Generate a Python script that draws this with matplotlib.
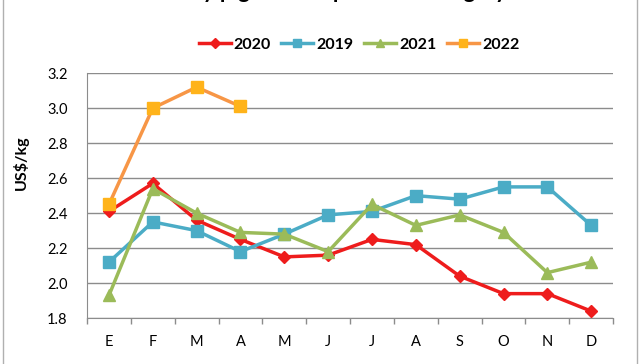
import matplotlib.pyplot as plt
from matplotlib.lines import Line2D
import numpy as np

plt.rcParams['font.family'] = ['Lato', 'DejaVu Sans']

months = ["E", "F", "M", "A", "M", "J", "J", "A", "S", "O", "N", "D"]

price_2020 = [2.41, 2.57, 2.36, 2.25, 2.15, 2.16, 2.25, 2.22, 2.04, 1.94, 1.94, 1.84]
price_2019 = [2.12, 2.35, 2.30, 2.18, 2.28, 2.39, 2.41, 2.50, 2.48, 2.55, 2.55, 2.33]
price_2021 = [1.93, 2.54, 2.40, 2.29, 2.28, 2.18, 2.45, 2.33, 2.39, 2.29, 2.06, 2.12]
price_2022 = [2.45, 3.00, 3.12, 3.01]

yticks = [1.8, 2.0, 2.2, 2.4, 2.6, 2.8, 3.0, 3.2]

series = [
    ("2020", price_2020, "#ee1c1c", "#ee1c1c", "D", 6.5),
    ("2019", price_2019, "#4bacc6", "#4bacc6", "s", 8),
    ("2021", price_2021, "#9bbb59", "#9bbb59", "^", 8),
    ("2022", price_2022, "#f79646", "#ffb31a", "s", 8),
]

fig = plt.figure(figsize=(6.4, 3.64), dpi=100)
ax = fig.add_axes([0.136, 0.126, 0.822, 0.673])

x = np.arange(len(months))
for name, vals, lc, mc, mk, ms in series:
    ax.plot(x[:len(vals)], vals, color=lc, lw=2.5, marker=mk, ms=ms,
            mfc=mc, mec=mc, label=name, zorder=3)

ax.set_xlim(-0.5, 11.5)
ax.set_ylim(1.8, 3.2)
ax.set_yticks(yticks)
ax.set_yticklabels([f"{v:.1f}" for v in yticks], fontsize=10.5)
ax.grid(axis='y', color='#8c8c8c', lw=1)
ax.set_axisbelow(True)

ax.set_xticks(x)
ax.set_xticklabels(months, fontsize=10.5)
ax.set_xticks(np.arange(-0.5, 12, 1), minor=True)
ax.tick_params(axis='x', which='major', length=0, pad=12)
ax.tick_params(axis='x', which='minor', length=4, color='#8c8c8c', width=1)
ax.tick_params(axis='y', length=0, pad=14)

for s in ['top', 'right']:
    ax.spines[s].set_visible(False)
for s in ['left', 'bottom']:
    ax.spines[s].set_color('#8c8c8c')

ax.set_ylabel("US$/kg", fontsize=11.5, fontweight='bold')
ax.yaxis.set_label_coords(-0.11, 0.633)

# legend handles drawn a bit smaller, like the spreadsheet legend
handles = [Line2D([], [], color=lc, lw=2.5, marker=mk, ms=ms * 0.75,
                  mfc=mc, mec=mc)
           for name, vals, lc, mc, mk, ms in series]
fig.legend(handles, [s[0] for s in series], loc='center', ncol=4,
           bbox_to_anchor=(0.561, 1 - 45 / 364), frameon=False,
           handlelength=2.0, handletextpad=0.2, columnspacing=0.65,
           prop={'weight': 'bold', 'size': 11.5})

# title is cut by the top edge in the reference, only descenders show
fig.text(507 / 640, 1 + 1.5 / 364, "Monthly pig carcass prices in Hungary",
         ha='right', va='baseline', fontsize=16, fontweight='bold')

fig.add_artist(plt.Rectangle((3 / 640, -0.01), 634 / 640, 1.05,
                             transform=fig.transFigure, fill=False,
                             edgecolor='#b0b0b0', lw=1))

fig.savefig("out.png", dpi=100)
